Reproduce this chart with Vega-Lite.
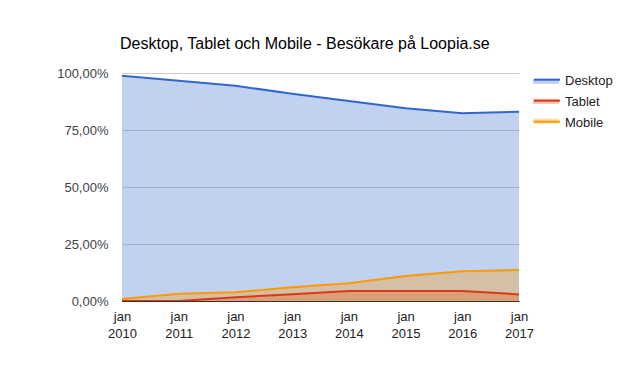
{
  "$schema": "https://vega.github.io/schema/vega-lite/v6.json",
  "autosize": "none",
  "width": 397,
  "height": 228,
  "padding": {"left": 122, "top": 73, "right": 119, "bottom": 76},
  "background": "white",
  "config": {
    "locale": {"number": {"decimal": ",", "thousands": " ", "grouping": [3], "currency": ["", " kr"]}},
    "font": "Liberation Sans",
    "view": {"stroke": null}
  },
  "title": {
    "text": "Desktop, Tablet och Mobile - Besökare på Loopia.se",
    "anchor": "start",
    "frame": "group",
    "fontSize": 16,
    "fontWeight": "normal",
    "color": "#000000",
    "font": "Liberation Sans",
    "offset": 15,
    "dx": -2
  },
  "data": {
    "values": [
      {"year": 2010, "series": "Desktop", "value": 0.988},
      {"year": 2011, "series": "Desktop", "value": 0.966},
      {"year": 2012, "series": "Desktop", "value": 0.944},
      {"year": 2013, "series": "Desktop", "value": 0.909},
      {"year": 2014, "series": "Desktop", "value": 0.877},
      {"year": 2015, "series": "Desktop", "value": 0.845},
      {"year": 2016, "series": "Desktop", "value": 0.823},
      {"year": 2017, "series": "Desktop", "value": 0.830},
      {"year": 2010, "series": "Tablet", "value": 0.0},
      {"year": 2011, "series": "Tablet", "value": 0.0},
      {"year": 2012, "series": "Tablet", "value": 0.016},
      {"year": 2013, "series": "Tablet", "value": 0.030},
      {"year": 2014, "series": "Tablet", "value": 0.044},
      {"year": 2015, "series": "Tablet", "value": 0.044},
      {"year": 2016, "series": "Tablet", "value": 0.044},
      {"year": 2017, "series": "Tablet", "value": 0.029},
      {"year": 2010, "series": "Mobile", "value": 0.009},
      {"year": 2011, "series": "Mobile", "value": 0.032},
      {"year": 2012, "series": "Mobile", "value": 0.038},
      {"year": 2013, "series": "Mobile", "value": 0.060},
      {"year": 2014, "series": "Mobile", "value": 0.078},
      {"year": 2015, "series": "Mobile", "value": 0.110},
      {"year": 2016, "series": "Mobile", "value": 0.130},
      {"year": 2017, "series": "Mobile", "value": 0.136}
    ]
  },
  "encoding": {
    "x": {
      "field": "year",
      "type": "quantitative",
      "scale": {"domain": [2010, 2017], "nice": false, "zero": false},
      "axis": {
        "title": null,
        "values": [2010, 2011, 2012, 2013, 2014, 2015, 2016, 2017],
        "format": "d",
        "labelExpr": "['jan', datum.label]",
        "labelFontSize": 13,
        "labelLineHeight": 17,
        "labelColor": "#222222",
        "labelPadding": 9,
        "labelFlush": false,
        "labelOverlap": false,
        "labelBound": false,
        "labelFont": "Liberation Sans",
        "ticks": false,
        "grid": false,
        "domain": true,
        "domainColor": "#333333",
        "domainWidth": 1,
        "zindex": 1
      }
    },
    "y": {
      "field": "value",
      "type": "quantitative",
      "stack": null,
      "scale": {"domain": [0, 1], "nice": false},
      "axis": {
        "title": null,
        "values": [0, 0.25, 0.5, 0.75, 1],
        "format": ".2%",
        "labelFontSize": 13,
        "labelColor": "#444444",
        "labelPadding": 14,
        "labelFont": "Liberation Sans",
        "ticks": false,
        "domain": false,
        "grid": true,
        "gridColor": "#cccccc",
        "gridWidth": 1,
        "zindex": 0
      }
    }
  },
  "layer": [
    {
      "mark": {"type": "area", "fillOpacity": 0.3, "interpolate": "linear"},
      "encoding": {
        "fill": {
          "field": "series",
          "type": "nominal",
          "scale": {"domain": ["Desktop", "Tablet", "Mobile"], "range": ["#3366cc", "#dc3912", "#ff9900"]},
          "legend": {
            "title": null,
            "orient": "none",
            "legendX": 411,
            "legendY": -6,
            "symbolType": "M-1,-0.1H1V0.3H-1Z",
            "symbolSize": 676,
            "symbolOpacity": 0.3,
            "symbolStrokeWidth": 0,
            "labelFontSize": 13,
            "labelExpr": "''",
            "labelFont": "Liberation Sans",
            "labelOffset": 4,
            "rowPadding": 0
          }
        }
      }
    },
    {
      "transform": [{"calculate": "datum.series", "as": "Serie"}],
      "mark": {"type": "line", "strokeWidth": 2, "interpolate": "linear"},
      "encoding": {
        "stroke": {
          "field": "Serie",
          "type": "nominal",
          "sort": ["Desktop", "Tablet", "Mobile"],
          "scale": {"range": ["#3366cc", "#dc3912", "#ff9900"]},
          "legend": {
            "title": null,
            "orient": "none",
            "legendX": 411,
            "legendY": -6,
            "symbolType": "M-1,-0.1H1",
            "symbolSize": 676,
            "symbolStrokeWidth": 2,
            "labelFontSize": 13,
            "labelColor": "#222222",
            "labelFont": "Liberation Sans",
            "labelOffset": 4,
            "rowPadding": 0
          }
        }
      }
    }
  ]
}
